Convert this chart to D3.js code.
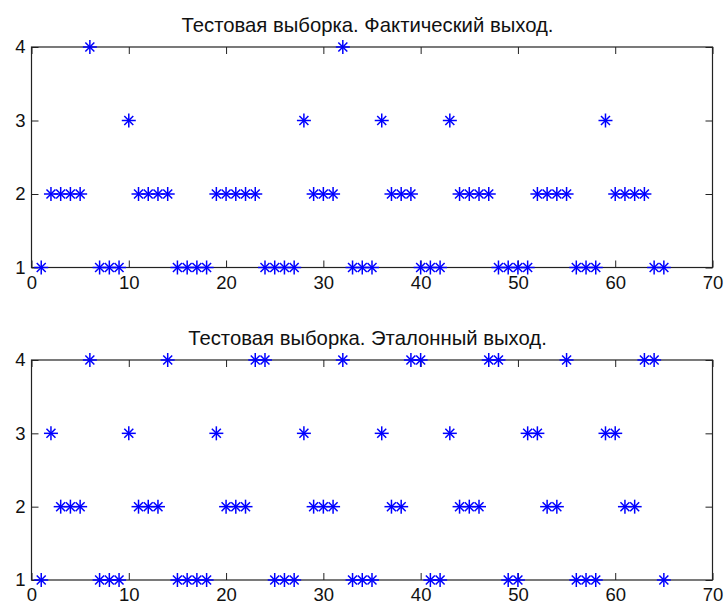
<!DOCTYPE html>
<html><head><meta charset="utf-8">
<script src="https://cdn.jsdelivr.net/npm/d3@7"></script>
<style>body{margin:0;background:#fff}svg{display:block}</style>
</head><body>
<svg id="c" width="725" height="605"></svg>
<script>
const titles = ["Тестовая выборка. Фактический выход.", "Тестовая выборка. Эталонный выход."];
const xTicks = [0,10,20,30,40,50,60,70];
const yTicks = [1,2,3,4];
const actual = [1,2,2,2,2,4,1,1,1,3,2,2,2,2,1,1,1,1,2,2,2,2,2,1,1,1,1,3,2,2,2,4,1,1,1,3,2,2,2,1,1,1,3,2,2,2,2,1,1,1,1,2,2,2,2,1,1,1,3,2,2,2,2,1,1];
const reference = [1,3,2,2,2,4,1,1,1,3,2,2,2,4,1,1,1,1,3,2,2,2,4,4,1,1,1,3,2,2,2,4,1,1,1,3,2,2,4,4,1,1,3,2,2,2,4,4,1,1,3,3,2,2,4,1,1,1,3,3,2,2,4,4,1];
const series = [actual, reference];

const svg = d3.select("#c");
const left = 31.5, right = 712.5;
const panels = [{top:47, bottom:267.5},{top:360, bottom:580}];
const font = "'Liberation Sans', Arial, sans-serif";
const x = d3.scaleLinear().domain([0,70]).range([left,right]);

panels.forEach((p,i)=>{
  const y = d3.scaleLinear().domain([1,4]).range([p.bottom,p.top]);
  const g = svg.append("g");
  const tl = 7;
  const ax = g.append("g").attr("transform",`translate(0,${p.bottom})`)
    .call(d3.axisBottom(x).tickValues(xTicks).tickSize(-tl).tickFormat(d3.format("d")));
  const axT = g.append("g").attr("transform",`translate(0,${p.top})`)
    .call(d3.axisTop(x).tickValues(xTicks).tickSize(-tl).tickFormat(""));
  const ay = g.append("g").attr("transform",`translate(${left},0)`)
    .call(d3.axisLeft(y).tickValues(yTicks).tickSize(-tl).tickFormat(d3.format("d")));
  const ayR = g.append("g").attr("transform",`translate(${right},0)`)
    .call(d3.axisRight(y).tickValues(yTicks).tickSize(-tl).tickFormat(""));
  [ax,axT,ay,ayR].forEach(a=>{
    a.select(".domain").remove();
    a.selectAll("line").attr("stroke","#222").attr("stroke-width",1);
    a.selectAll("text").attr("font-family",font).attr("font-size",18.5).attr("fill","#111");
  });
  ax.selectAll("text").attr("dy","0.71em").attr("y", 8);
  ay.selectAll("text").attr("x", -6);
  g.append("rect").attr("x",left).attr("y",p.top).attr("width",right-left).attr("height",p.bottom-p.top)
    .attr("fill","none").attr("stroke","#222").attr("stroke-width",1.2);
  g.append("text").attr("x",(left+right)/2 - 4.5).attr("y",p.top-15.5)
    .attr("text-anchor","middle").attr("font-family",font).attr("font-size",20.3).attr("fill","#111")
    .text(titles[i]);
  const data = series[i].map((v,k)=>({i:k+1,v}));
  const m = g.append("g").selectAll("g").data(data).join("g")
    .attr("transform",d=>`translate(${x(d.i)},${y(d.v)})`)
    .attr("stroke","#0000ff").attr("stroke-width",1.5);
  const s = 7, dd = 4.5;
  m.append("line").attr("x1",-s).attr("x2",s).attr("y1",0).attr("y2",0);
  m.append("line").attr("x1",0).attr("x2",0).attr("y1",-s).attr("y2",s);
  m.append("line").attr("x1",-dd).attr("x2",dd).attr("y1",-dd).attr("y2",dd);
  m.append("line").attr("x1",-dd).attr("x2",dd).attr("y1",dd).attr("y2",-dd);
});
</script>
</body></html>
